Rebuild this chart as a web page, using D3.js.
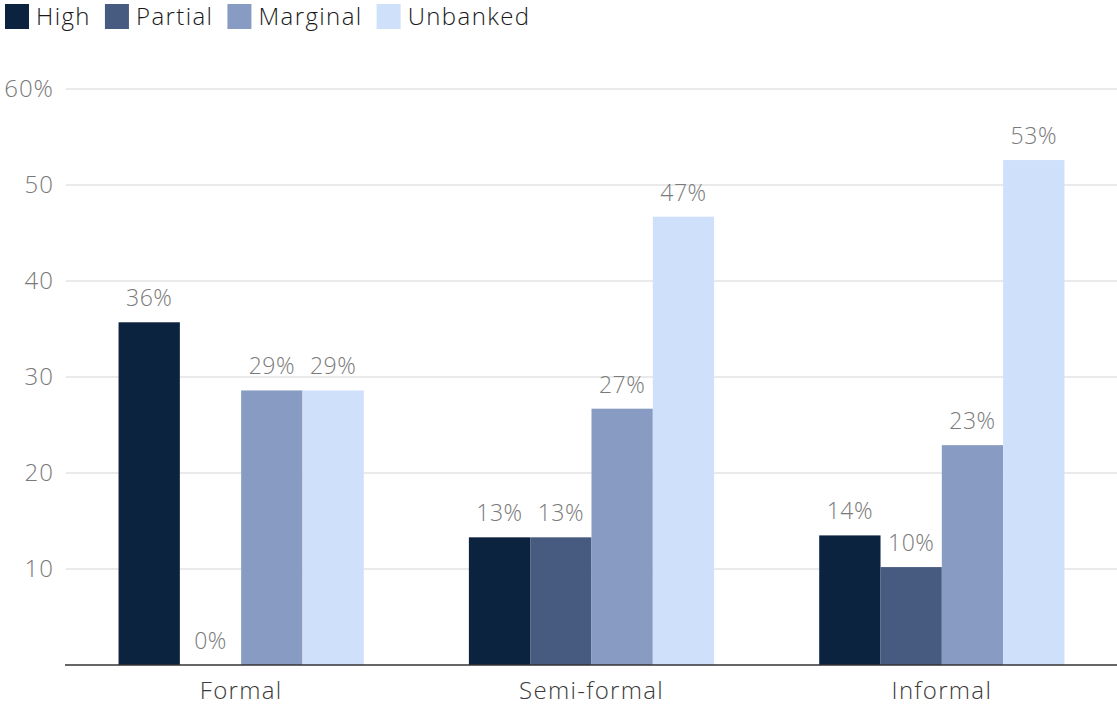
<!DOCTYPE html>
<html>
<head>
<meta charset="utf-8">
<script src="https://cdn.jsdelivr.net/npm/d3@7"></script>
<style>
  html, body { margin: 0; padding: 0; background: #ffffff; }
  svg { display: block; font-family: "Open Sans", "Lato", sans-serif; font-weight: 300; }
</style>
</head>
<body>
<svg id="chart" width="1117" height="705"></svg>
<script>
// Share of respondents by banking status within each employment type
const categories = ["Formal", "Semi-formal", "Informal"];
const seriesNames = ["High", "Partial", "Marginal", "Unbanked"];
const high     = [35.7, 13.3, 13.5];
const partial  = [0.0, 13.3, 10.2];
const marginal = [28.6, 26.7, 22.9];
const unbanked = [28.6, 46.7, 52.6];
const yTicks = [10, 20, 30, 40, 50, 60];
const colors = ["#0c2340", "#475a80", "#889bc2", "#cfe0fb"];

const seriesValues = [high, partial, marginal, unbanked];

const svg = d3.select("#chart");
const W = 1117, H = 705;
const margin = { top: 89, right: 0, bottom: 40, left: 66 };
const plotBottom = H - margin.bottom;

const x0 = d3.scaleBand().domain(categories).range([margin.left, W - margin.right]).padding(0);
const groupWidth = x0.bandwidth() * 0.7;
const x1 = d3.scaleBand().domain(seriesNames).range([0, groupWidth]).padding(0);
const y = d3.scaleLinear().domain([0, 60]).range([plotBottom, margin.top]);

// gridlines
svg.append("g")
  .selectAll("line")
  .data(yTicks)
  .join("line")
  .attr("x1", margin.left).attr("x2", W)
  .attr("y1", d => y(d)).attr("y2", d => y(d))
  .attr("stroke", "#e3e3e3").attr("stroke-width", 1.5);

// y tick labels
svg.append("g")
  .selectAll("text")
  .data(yTicks)
  .join("text")
  .attr("x", 54)
  .attr("y", d => y(d))
  .attr("dy", "0.35em")
  .attr("text-anchor", "end")
  .attr("fill", "#7a7a7a")
  .attr("font-size", 24)
  .attr("letter-spacing", 1)
  .text(d => d === 60 ? d + "%" : d);

// bars
const groups = svg.append("g")
  .selectAll("g")
  .data(categories)
  .join("g")
  .attr("transform", c => `translate(${x0(c) + (x0.bandwidth() - groupWidth) / 2},0)`);

groups.selectAll("rect")
  .data((c, i) => seriesNames.map((s, j) => ({ s, j, v: seriesValues[j][i] })))
  .join("rect")
  .attr("x", d => x1(d.s))
  .attr("width", x1.bandwidth())
  .attr("y", d => y(d.v))
  .attr("height", d => plotBottom - y(d.v))
  .attr("fill", d => colors[d.j]);

groups.selectAll("text")
  .data((c, i) => seriesNames.map((s, j) => ({ s, j, v: seriesValues[j][i] })))
  .join("text")
  .attr("x", d => x1(d.s) + x1.bandwidth() / 2)
  .attr("y", d => y(d.v) - 16)
  .attr("text-anchor", "middle")
  .attr("fill", "#7a7a7a")
  .attr("font-size", 23)
  .attr("letter-spacing", 0.5)
  .text(d => Math.round(d.v) + "%");

// baseline
svg.append("line")
  .attr("x1", margin.left - 1).attr("x2", W)
  .attr("y1", plotBottom).attr("y2", plotBottom)
  .attr("stroke", "#333").attr("stroke-width", 1.5);

// category labels
svg.append("g")
  .selectAll("text")
  .data(categories)
  .join("text")
  .attr("x", c => x0(c) + x0.bandwidth() / 2)
  .attr("y", 691)
  .attr("dy", "0.35em")
  .attr("text-anchor", "middle")
  .attr("fill", "#3a3a3a")
  .attr("font-size", 24)
  .attr("letter-spacing", 1.3)
  .text(c => c);

// legend: swatch + label, items laid out left to right by measured width
const legend = svg.append("g").attr("transform", "translate(5,4)");
let cursor = 0;
seriesNames.forEach((name, i) => {
  const item = legend.append("g").attr("transform", `translate(${cursor},0)`);
  item.append("rect")
    .attr("width", 24).attr("height", 25)
    .attr("fill", colors[i]);
  const label = item.append("text")
    .attr("x", 31).attr("y", 12.5)
    .attr("dy", "0.35em")
    .attr("fill", "#1a1a1a")
    .attr("font-size", 24)
    .attr("letter-spacing", 1.4)
    .text(name);
  cursor += 31 + label.node().getComputedTextLength() + 14;
});
</script>
</body>
</html>
